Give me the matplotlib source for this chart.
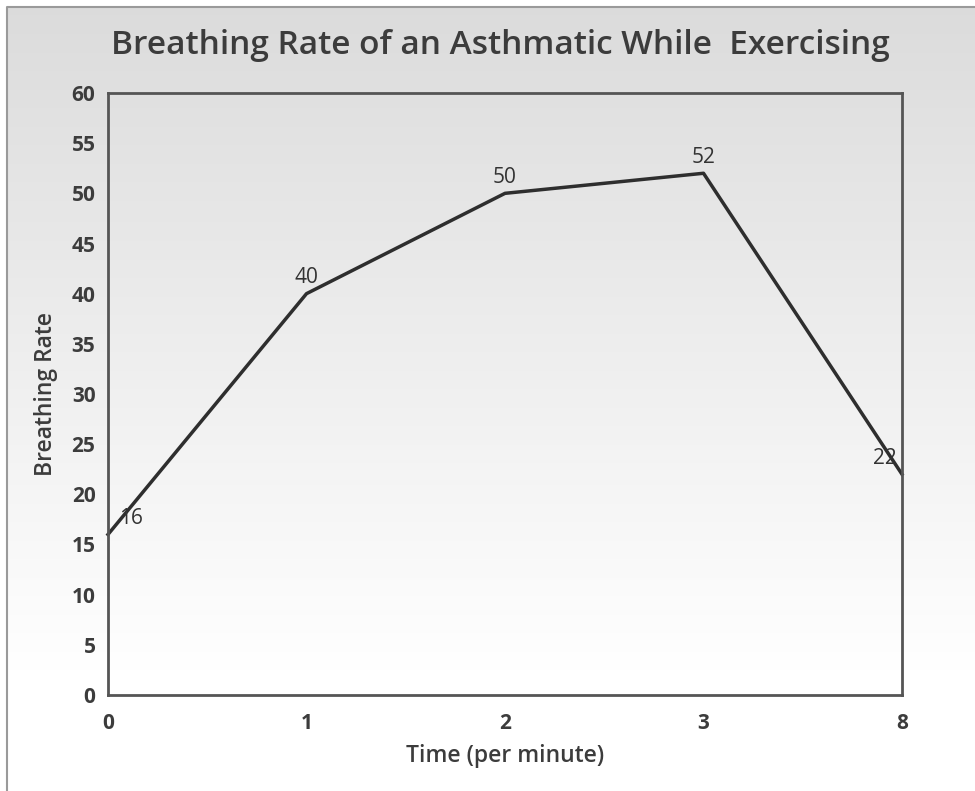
import numpy as np
import matplotlib.pyplot as plt
from matplotlib.patches import Rectangle

plt.rcParams['font.family'] = ['Open Sans', 'DejaVu Sans']

time_labels = ['0', '1', '2', '3', '8']
breathing_rate = [16, 40, 50, 52, 22]
label_dx = [23, 0, 0, 0, -17]

W, H = 975, 791
fig = plt.figure(figsize=(W / 100, H / 100), dpi=100)

# gradient background (gray on top -> white at bottom)
bg = fig.add_axes([0, 0, 1, 1], zorder=-10)
grad = np.linspace(0, 1, 256).reshape(-1, 1)
shade = np.clip(0.86 + 0.14 * grad / 0.85, 0, 1)
bg.imshow(np.dstack([shade, shade, shade]), aspect='auto', extent=[0, 1, 0, 1], origin='upper')
bg.set_xlim(0, 1)
bg.set_ylim(0, 1)
bg.axis('off')
# white margin on top/left and frame border
bg.add_patch(Rectangle((0, 1 - 7 / H), 1, 7 / H, color='white', lw=0))
bg.add_patch(Rectangle((0, 0), 7 / W, 1, color='white', lw=0))
bg.plot([7 / W, 7 / W, 1], [0, 1 - 7 / H, 1 - 7 / H], color='#9a9a9a', lw=1.5)

ax = fig.add_axes([108 / W, 1 - 695 / H, (902 - 108) / W, (695 - 93) / H])
ax.patch.set_alpha(0)
x = np.arange(len(time_labels))
ax.plot(x, breathing_rate, color='#2e2e2e', lw=2.5, clip_on=False)
for xi, yi, dx in zip(x, breathing_rate, label_dx):
    ax.annotate(str(yi), (xi, yi), xytext=(dx, 16), textcoords='offset pixels',
                ha='center', va='center', fontsize=15, color='#333333')

ax.set_xlim(0, len(time_labels) - 1)
ax.set_ylim(0, 60)
ax.set_xticks(x)
ax.set_xticklabels(time_labels)
ax.set_yticks(range(0, 61, 5))
ax.tick_params(length=0, labelsize=15, colors='#3c3c3c')
ax.tick_params(axis='y', pad=9)
ax.tick_params(axis='x', pad=13)
for lab in ax.get_xticklabels() + ax.get_yticklabels():
    lab.set_fontweight('bold')
for s in ax.spines.values():
    s.set_color('#555555')
    s.set_linewidth(2)

ax.set_xlabel('Time (per minute)', fontsize=16.5, fontweight='semibold', color='#3c3c3c', labelpad=7)
ax.set_ylabel('Breathing Rate', fontsize=16.5, fontweight='semibold', color='#3c3c3c', labelpad=10)
fig.text(500 / W, 1 - 45 / H, 'Breathing Rate of an Asthmatic While  Exercising',
         ha='center', va='center', fontsize=24, fontweight='semibold', color='#3c3c3c')

fig.savefig('out.png', dpi=100)
